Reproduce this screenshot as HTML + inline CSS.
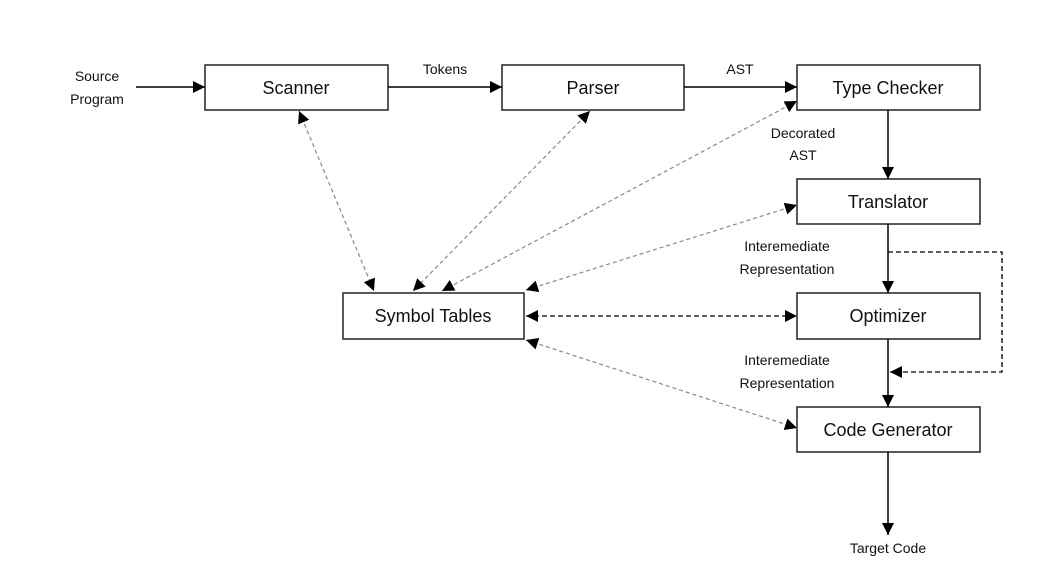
<!DOCTYPE html>
<html><head><style>body{margin:0;background:#fff}svg{display:block}</style></head><body>
<svg width="1045" height="577" viewBox="0 0 1045 577" xmlns="http://www.w3.org/2000/svg" font-family="Liberation Sans, sans-serif">
<defs>
<marker id="a" viewBox="0 0 10 10" refX="10" refY="5" markerWidth="14" markerHeight="12" markerUnits="userSpaceOnUse" orient="auto-start-reverse"><path d="M0,0L10,5L0,10z" fill="#000"/></marker>
</defs>
<g fill="#fff" stroke="#222" stroke-width="1.5">
<rect x="205" y="65" width="183" height="45"/>
<rect x="502" y="65" width="182" height="45"/>
<rect x="797" y="65" width="183" height="45"/>
<rect x="797" y="179" width="183" height="45"/>
<rect x="797" y="293" width="183" height="46"/>
<rect x="797" y="407" width="183" height="45"/>
<rect x="343" y="293" width="181" height="46"/>
</g>
<g font-size="18" text-anchor="middle" fill="#111">
<text x="296" y="94">Scanner</text>
<text x="593" y="94">Parser</text>
<text x="888" y="94">Type Checker</text>
<text x="888" y="208">Translator</text>
<text x="888" y="322">Optimizer</text>
<text x="888" y="436">Code Generator</text>
<text x="433" y="322">Symbol Tables</text>
</g>
<g font-size="14" text-anchor="middle" fill="#111">
<text x="97" y="81">Source</text><text x="97" y="104">Program</text>
<text x="445" y="74">Tokens</text>
<text x="740" y="74">AST</text>
<text x="803" y="138">Decorated</text><text x="803" y="160">AST</text>
<text x="787" y="251">Interemediate</text><text x="787" y="274">Representation</text>
<text x="787" y="365">Interemediate</text><text x="787" y="388">Representation</text>
<text x="888" y="553">Target Code</text>
</g>
<g stroke="#000" stroke-width="1.5" fill="none" marker-end="url(#a)">
<line x1="136" y1="87" x2="205" y2="87"/>
<line x1="388" y1="87" x2="502" y2="87"/>
<line x1="684" y1="87" x2="797" y2="87"/>
<line x1="888" y1="110" x2="888" y2="179"/>
<line x1="888" y1="224" x2="888" y2="293"/>
<line x1="888" y1="339" x2="888" y2="407"/>
<line x1="888" y1="452" x2="888" y2="535"/>
</g>
<g stroke="#000" stroke-width="1.3" fill="none" stroke-dasharray="5,3">
<polyline points="888,252 1002,252 1002,372 890,372" marker-end="url(#a)"/>
<line x1="526" y1="316" x2="797" y2="316" marker-start="url(#a)" marker-end="url(#a)"/>
</g>
<g stroke="#888" stroke-width="1.2" fill="none" stroke-dasharray="4,3" marker-start="url(#a)" marker-end="url(#a)">
<line x1="299" y1="111" x2="374" y2="291"/>
<line x1="590" y1="111" x2="413" y2="291"/>
<line x1="797" y1="101" x2="442" y2="291"/>
<line x1="797" y1="205" x2="526" y2="290"/>
<line x1="526" y1="340" x2="797" y2="428"/>
</g>
</svg>
</body></html>
